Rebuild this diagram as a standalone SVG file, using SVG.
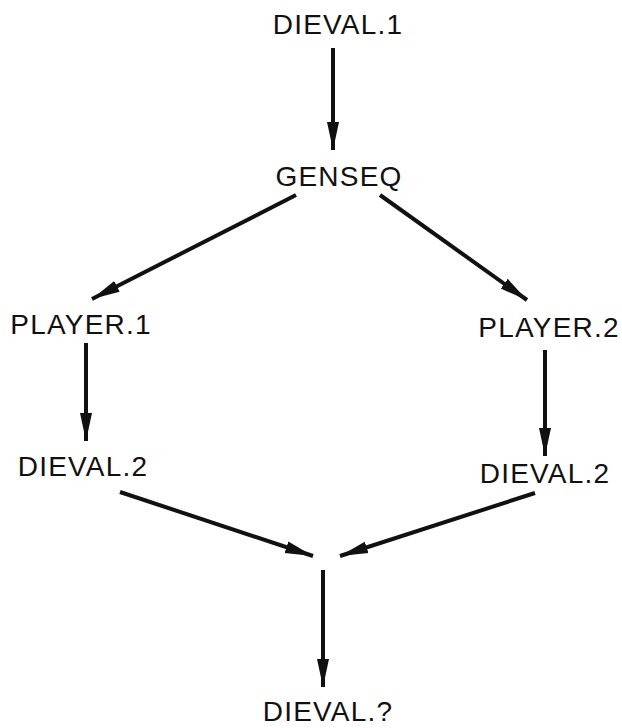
<svg xmlns="http://www.w3.org/2000/svg" width="622" height="728" viewBox="0 0 622 728">
<style>
.lbl{font-family:"Liberation Sans","DejaVu Sans",sans-serif;font-size:28px;fill:#111;text-anchor:middle;letter-spacing:1.2px}
.c{stroke:#111;stroke-width:4;fill:none;marker-end:url(#ah)}
</style>
<defs>
<marker id="ah" markerUnits="userSpaceOnUse" markerWidth="32" markerHeight="16" refX="28" refY="8" orient="auto">
<path d="M0,2 L28,8 L0,14 Z" fill="#111"/>
</marker>
</defs>
<rect width="622" height="728" fill="#fff"/>
<g id="connectors">
<line class="c" x1="333" y1="48" x2="333" y2="150"/>
<line class="c" x1="296" y1="195" x2="92" y2="299"/>
<line class="c" x1="380" y1="195" x2="527" y2="300"/>
<line class="c" x1="86" y1="343" x2="86" y2="441"/>
<line class="c" x1="545" y1="350" x2="545" y2="456"/>
<line class="c" x1="120" y1="492" x2="313" y2="556"/>
<line class="c" x1="535" y1="493" x2="340" y2="556"/>
<line class="c" x1="323" y1="570" x2="323" y2="687"/>
</g>
<g id="dieval1"><text class="lbl" x="338" y="34">DIEVAL.1</text></g>
<g id="genseq"><text class="lbl" x="339" y="186">GENSEQ</text></g>
<g id="player1"><text class="lbl" x="81" y="334">PLAYER.1</text></g>
<g id="player2"><text class="lbl" x="549" y="337">PLAYER.2</text></g>
<g id="dieval2a"><text class="lbl" x="83" y="476">DIEVAL.2</text></g>
<g id="dieval2b"><text class="lbl" x="545" y="483">DIEVAL.2</text></g>
<g id="dievalq"><text class="lbl" x="328" y="721">DIEVAL.?</text></g>
</svg>
